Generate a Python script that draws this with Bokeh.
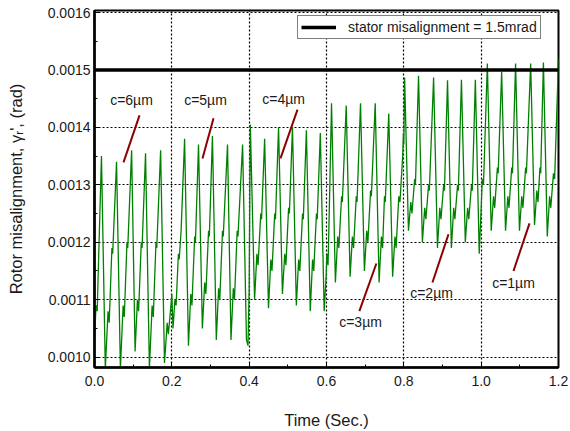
from bokeh.plotting import figure
from bokeh.models import (Range1d, FixedTicker, PrintfTickFormatter,
                          Legend, LegendItem, ColumnDataSource)
from bokeh.core.properties import value
from bokeh.embed import file_html
from bokeh.resources import INLINE

# ---------------- data ----------------
# c = 6 um segment
t_c6 = [0.000, 0.004, 0.007, 0.011, 0.018, 0.028, 0.035, 0.038, 0.045, 0.047, 0.057, 0.067, 0.074, 0.077, 0.084,
        0.086, 0.096, 0.105, 0.111, 0.114, 0.121, 0.123, 0.132, 0.142, 0.149, 0.152, 0.159, 0.161, 0.171, 0.181,
        0.188, 0.191, 0.199]
r_c6 = [0.00103, 0.00109, 0.00108, 0.00118, 0.00135, 0.00098, 0.00108, 0.00106, 0.00119, 0.00118, 0.00134, 0.00098,
        0.00109, 0.00107, 0.00120, 0.00119, 0.00136, 0.00101, 0.00110, 0.00108, 0.00120, 0.00119, 0.001355, 0.00098,
        0.00109, 0.00107, 0.00120, 0.00119, 0.00136, 0.00099, 0.00106, 0.00104, 0.00110]
# c = 5 um segment
t_c5 = [0.200, 0.203, 0.208, 0.211, 0.217, 0.219, 0.224, 0.233, 0.243, 0.249, 0.252, 0.259, 0.261, 0.269, 0.279,
        0.285, 0.288, 0.295, 0.297, 0.305, 0.315, 0.321, 0.324, 0.331, 0.333, 0.344, 0.353, 0.359, 0.362, 0.369,
        0.371, 0.383, 0.393, 0.397]
r_c5 = [0.00111, 0.00105, 0.00110, 0.00109, 0.00118, 0.00117, 0.00122, 0.00138, 0.00102, 0.00111, 0.00109, 0.00121,
        0.00120, 0.00137, 0.00105, 0.00113, 0.00111, 0.00122, 0.00121, 0.001385, 0.00103, 0.00112, 0.00110, 0.00122,
        0.00121, 0.00137, 0.00103, 0.00112, 0.00110, 0.00122, 0.00121, 0.00137, 0.00103, 0.00102]
# c = 4 um segment
t_c4 = [0.400, 0.403, 0.414, 0.420, 0.423, 0.430, 0.432, 0.440, 0.450, 0.456, 0.459, 0.466, 0.468, 0.476, 0.486,
        0.492, 0.495, 0.502, 0.504, 0.512, 0.522, 0.528, 0.531, 0.538, 0.540, 0.548, 0.558, 0.564, 0.567, 0.574,
        0.576, 0.584, 0.594, 0.599]
r_c4 = [0.00112, 0.001405, 0.00110, 0.00118, 0.00116, 0.00125, 0.00124, 0.00138, 0.001085, 0.00117, 0.00115, 0.00125,
        0.00124, 0.00140, 0.00111, 0.00118, 0.00116, 0.00126, 0.00125, 0.00140, 0.00109, 0.00117, 0.00115, 0.00125,
        0.00124, 0.001395, 0.00108, 0.00117, 0.00115, 0.00125, 0.00124, 0.00139, 0.00108, 0.00114]
# c = 3 um segment
t_c3 = [0.601, 0.604, 0.608, 0.613, 0.623, 0.629, 0.632, 0.639, 0.641, 0.651, 0.661, 0.667, 0.670, 0.677, 0.679,
        0.688, 0.698, 0.704, 0.707, 0.714, 0.716, 0.726, 0.736, 0.742, 0.745, 0.750, 0.752, 0.761, 0.771, 0.777,
        0.780, 0.787, 0.790, 0.797, 0.799]
r_c3 = [0.00118, 0.00116, 0.00128, 0.001442, 0.00113, 0.00121, 0.00119, 0.00128, 0.00127, 0.001438, 0.00114, 0.00121,
        0.00119, 0.00128, 0.00127, 0.001442, 0.00115, 0.00122, 0.00120, 0.00129, 0.00128, 0.001442, 0.00113, 0.00121,
        0.00119, 0.00128, 0.00127, 0.001424, 0.00114, 0.00121, 0.00119, 0.00128, 0.00127, 0.00135, 0.00139]
# c = 2 um segment
t_c2 = [0.800, 0.802, 0.812, 0.818, 0.821, 0.828, 0.830, 0.838, 0.848, 0.854, 0.857, 0.864, 0.866, 0.877, 0.887,
        0.893, 0.896, 0.903, 0.905, 0.913, 0.923, 0.929, 0.932, 0.939, 0.941, 0.949, 0.959, 0.965, 0.968, 0.975,
        0.977, 0.985, 0.995]
r_c2 = [0.00137, 0.001487, 0.00122, 0.00127, 0.00125, 0.00131, 0.00130, 0.00149, 0.00120, 0.00126, 0.00124, 0.00130,
        0.00129, 0.001487, 0.00119, 0.00126, 0.00124, 0.00130, 0.00129, 0.001482, 0.00119, 0.00126, 0.00124, 0.00130,
        0.00129, 0.001483, 0.00120, 0.00126, 0.00124, 0.00130, 0.00129, 0.001483, 0.00118]
# c = 1 um segment
t_c1 = [1.000, 1.003, 1.006, 1.016, 1.026, 1.032, 1.035, 1.042, 1.044, 1.053, 1.063, 1.069, 1.072, 1.079, 1.081,
        1.089, 1.099, 1.105, 1.108, 1.115, 1.117, 1.128, 1.138, 1.144, 1.147, 1.152, 1.154, 1.161, 1.171, 1.177,
        1.180, 1.187, 1.190, 1.200]
r_c1 = [0.00126, 0.00131, 0.00130, 0.001511, 0.00122, 0.00128, 0.00126, 0.00133, 0.00132, 0.001497, 0.00122, 0.00128,
        0.00126, 0.00133, 0.00132, 0.001511, 0.00122, 0.00128, 0.00126, 0.00133, 0.00132, 0.001511, 0.00123, 0.00129,
        0.00127, 0.00133, 0.00132, 0.001513, 0.00121, 0.00128, 0.00126, 0.00132, 0.00131, 0.00152]

stator_misalignment = 0.0015
legend_label = "stator misalignment = 1.5mrad"

# annotation labels and their leader lines (data coordinates)
ann_text = ["c=6\u00b5m", "c=5\u00b5m", "c=4\u00b5m", "c=3\u00b5m", "c=2\u00b5m", "c=1\u00b5m"]
ann_t = [0.0957, 0.287, 0.489, 0.688, 0.8716, 1.0836]
ann_v = [0.001447, 0.001447, 0.00145, 0.001061, 0.001111, 0.001129]
lead_t0 = [0.1164, 0.3078, 0.525, 0.729, 0.9155, 1.125]
lead_v0 = [0.001421, 0.001416, 0.001431, 0.001163, 0.001214, 0.001233]
lead_t1 = [0.0750, 0.2793, 0.481, 0.685, 0.874, 1.0836]
lead_v1 = [0.001339, 0.001346, 0.001346, 0.00108, 0.00113, 0.00115]

x_ticks = [0.0, 0.2, 0.4, 0.6, 0.8, 1.0, 1.2]
x_minor = [0.1, 0.3, 0.5, 0.7, 0.9, 1.1]
y_ticks = [0.0010, 0.0011, 0.0012, 0.0013, 0.0014, 0.0015, 0.0016]
y_minor = [0.00105, 0.00115, 0.00125, 0.00135, 0.00145, 0.00155]

t_all = t_c6 + t_c5 + t_c4 + t_c3 + t_c2 + t_c1
r_all = r_c6 + r_c5 + r_c4 + r_c3 + r_c2 + r_c1
assert len(t_all) == len(r_all)

FONT = "Liberation Sans"
TXT = "#1a1a1a"

p = figure(width=570, height=431, x_range=Range1d(0, 1.2), y_range=Range1d(0.000982, 0.0016035),
           output_backend="svg", toolbar_location=None,
           min_border_left=94, min_border_right=12, min_border_top=10, min_border_bottom=64)
p.background_fill_color = "white"
p.border_fill_color = "white"
p.outline_line_color = "black"
p.outline_line_width = 2

xt = FixedTicker(ticks=x_ticks, minor_ticks=x_minor)
yt = FixedTicker(ticks=y_ticks, minor_ticks=y_minor)

p.xaxis.ticker = xt
p.yaxis.ticker = yt
p.xaxis.formatter = PrintfTickFormatter(format="%.1f")
p.yaxis.formatter = PrintfTickFormatter(format="%.4f")
p.xgrid.ticker = xt
p.ygrid.ticker = yt
p.grid.grid_line_color = "black"
p.grid.grid_line_dash = "2 2"
p.grid.grid_line_width = 1.2

for ax in (p.xaxis[0], p.yaxis[0]):
    ax.axis_line_width = 2.5
    ax.axis_line_color = "black"
    ax.major_tick_in = 5
    ax.major_tick_out = 0
    ax.minor_tick_in = 3
    ax.minor_tick_out = 0
    ax.major_tick_line_color = "black"
    ax.minor_tick_line_color = "black"
    ax.major_label_text_font = FONT
    ax.major_label_text_font_size = "14px"
    ax.major_label_text_color = TXT
    ax.axis_label_text_font = FONT
    ax.axis_label_text_font_size = "16.5px"
    ax.axis_label_text_font_style = "normal"
    ax.axis_label_text_color = TXT

p.xaxis.axis_label = "Time (Sec.)"
p.yaxis.axis_label = "Rotor misalignment, \u03b3\u1d63', (rad)"
p.xaxis.major_label_standoff = 8
p.yaxis.major_label_standoff = 4
p.xaxis.axis_label_standoff = 22
p.yaxis.axis_label_standoff = 20

# signal
src = ColumnDataSource(dict(t=t_all, r=r_all))
p.line("t", "r", source=src, line_color="#008000", line_width=1.3)

# stator misalignment line
stator_r = p.line(x=[x_ticks[0], x_ticks[-1]], y=[stator_misalignment, stator_misalignment],
                  line_color="black", line_width=3.5)

# annotations
p.segment(x0=lead_t0, y0=lead_v0, x1=lead_t1, y1=lead_v1, line_color="#8b0000", line_width=2)
p.text(x=ann_t, y=ann_v, text=ann_text, text_font=value(FONT), text_font_size="14px",
       text_align="center", text_baseline="middle", text_color=TXT)

legend = Legend(items=[LegendItem(label=legend_label, renderers=[stator_r])],
                location=(203, 328), padding=3, spacing=0, margin=0,
                glyph_width=35, glyph_height=12, label_standoff=12,
                label_text_font=FONT, label_text_font_size="14px", label_text_color=TXT,
                label_height=12, border_line_color="black", border_line_width=1,
                background_fill_color="white", background_fill_alpha=1.0)
p.add_layout(legend)

open("out.html", "w").write(file_html(p, INLINE))
